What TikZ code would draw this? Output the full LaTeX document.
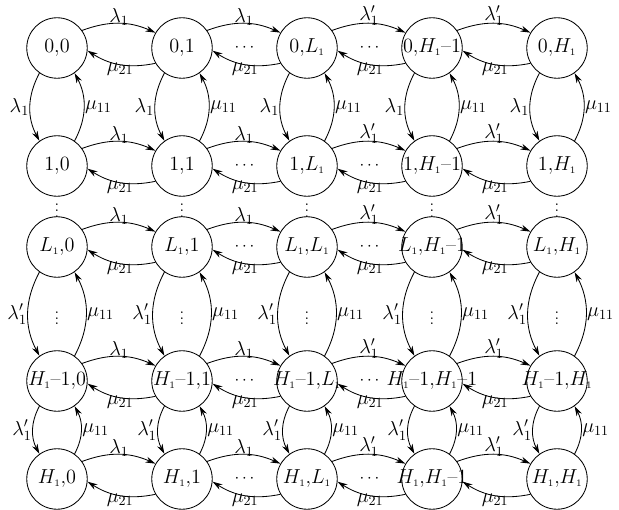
\documentclass[tikz,border=0pt]{standalone}
\usepackage{tikz}
\usetikzlibrary{arrows.meta}
\newcommand{\mi}{\mbox{--}}
\newcommand{\sub}[1]{_{\scriptscriptstyle #1}}
\tikzset{
  node-state/.style={draw,line width=0.6pt,circle,minimum size=43pt,inner sep=0pt,font=\Large},
  node-dots/.style={inner sep=0pt,font=\large},
  node-rate/.style={inner sep=0.5pt,font=\Large},
  arrow/.style={-{Stealth[length=2.5mm,width=1.5mm]},line width=0.6pt},
  % horizontal pair bulges up/down, vertical pair bulges left/right
  arrow-h/.style={arrow,bend left=22},
  arrow-v/.style={arrow,bend right=28},
}
\begin{document}
\begin{tikzpicture}[x=0.025cm,y=-0.025cm]
  \useasboundingbox (0,0) rectangle (619,510);
  \foreach \r/\ry/\rt in {0/48/0,1/166/1,2/247/L\sub1,3/381/H\sub1\mi 1,4/479/H\sub1}
    \foreach \c/\cx/\ct in {0/57/0,1/182/1,2/307/L\sub1,3/432/H\sub1\mi 1,4/557/H\sub1}
      \node[node-state] (s-\r-\c) at (\cx,\ry) {\makebox[0pt]{$\rt{,}\ct$}};
  % rows
  \foreach \r in {0,...,4}
    \foreach \c/\n/\lab in {0/1/\lambda_1,1/2/\lambda_1,2/3/\lambda'_1,3/4/\lambda'_1} {
      \draw[arrow-h] (s-\r-\c.35) to node[node-rate,above=-2.5pt]{$\lab$} (s-\r-\n.150);
      \draw[arrow-h] (s-\r-\n.210) to node[node-rate,below=-2pt]{$\mu_{21}$} (s-\r-\c.-5);
    }
  % columns
  \foreach \r/\n/\lab in {0/1/\lambda_1,2/3/\lambda'_1,3/4/\lambda'_1}
    \foreach \c in {0,...,4} {
      \draw[arrow-v] (s-\r-\c.235) to node[node-rate,left=0pt]{$\lab$} (s-\n-\c.125);
      \draw[arrow-v] (s-\n-\c.55) to node[node-rate,right=0pt]{$\mu_{11}$} (s-\r-\c.-55);
    }
  \foreach \c in {0,...,4} {
    \path (s-1-\c) -- node[node-dots] (vd-a-\c) {$\vdots$} (s-2-\c);
    \path (s-2-\c) -- node[node-dots] (vd-b-\c) {$\vdots$} (s-3-\c);
  }
  \foreach \r in {0,...,4} {
    \path (s-\r-1) -- node[node-dots] (hd-a-\r) {$\cdots$} (s-\r-2);
    \path (s-\r-2) -- node[node-dots] (hd-b-\r) {$\cdots$} (s-\r-3);
  }
\end{tikzpicture}
\end{document}
